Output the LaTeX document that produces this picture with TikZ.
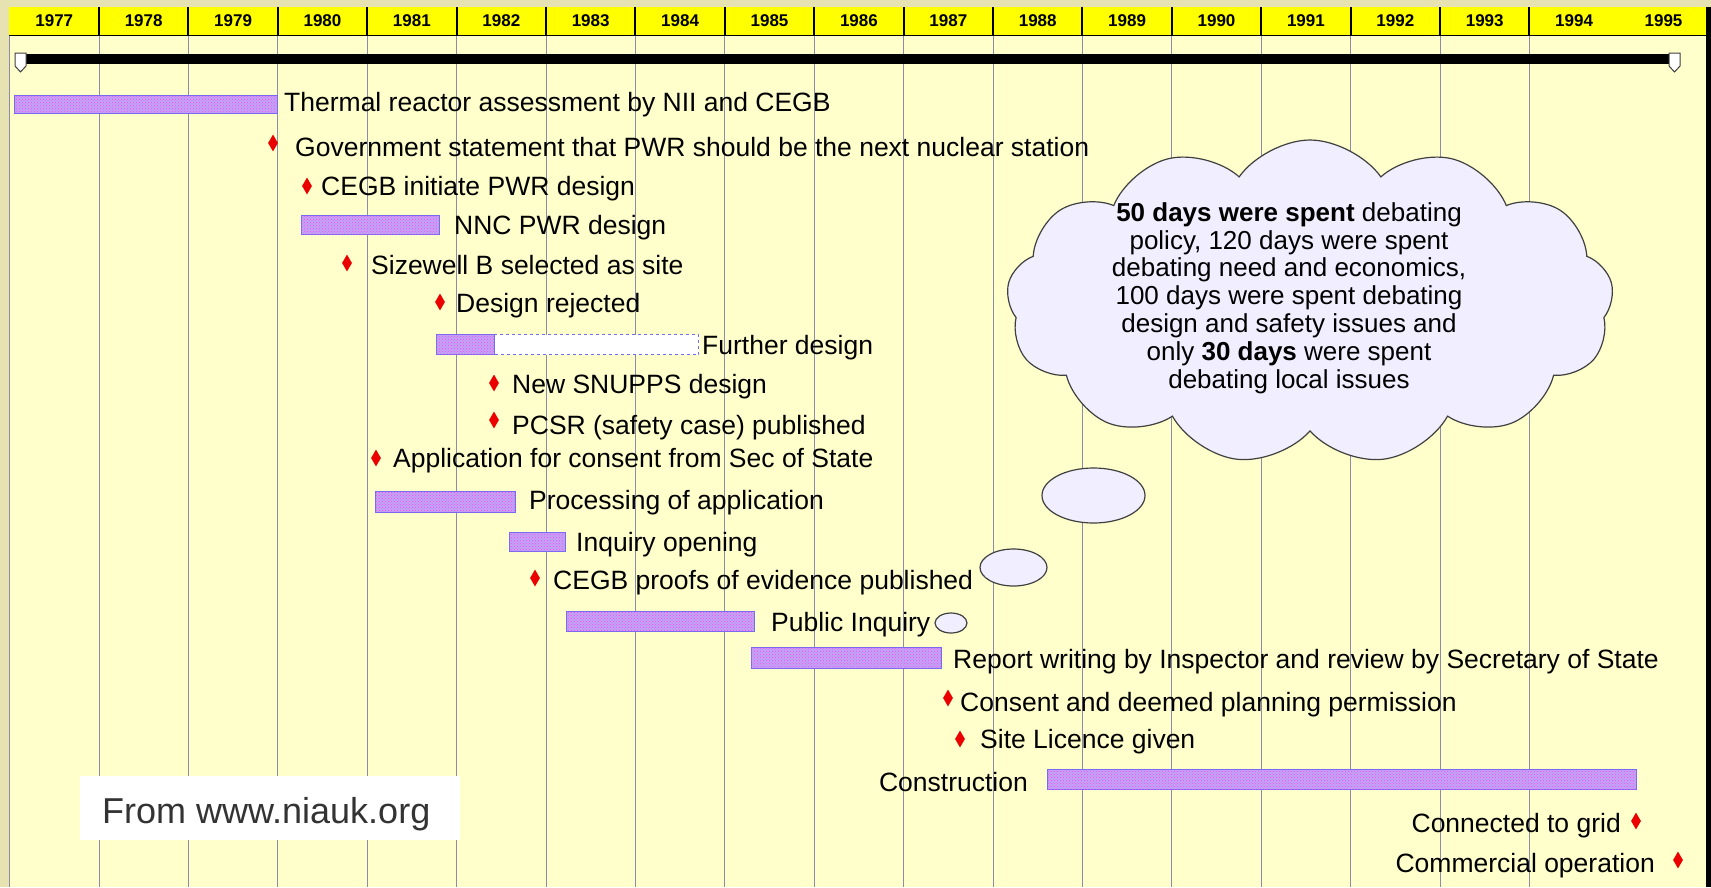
\documentclass[tikz,border=0pt]{standalone}
\usepackage{fontspec}
\setmainfont{Liberation Sans}
\usetikzlibrary{shapes.geometric,shapes.symbols,patterns}
\definecolor{framec}{RGB}{230,226,178}
\definecolor{bodybg}{RGB}{255,255,204}
\definecolor{hdr}{RGB}{255,255,0}
\definecolor{barbase}{RGB}{190,166,244}
\definecolor{barline}{RGB}{110,110,240}
\definecolor{cloudfill}{RGB}{240,238,255}
\definecolor{gridc}{RGB}{140,140,170}
\definecolor{mile}{RGB}{235,0,0}
\definecolor{srctext}{RGB}{51,51,51}
\begin{document}
\begin{tikzpicture}[x=1pt,y=-1pt,
  lbl/.style={anchor=base west, inner sep=0, font=\fontsize{26.5}{28}\selectfont},
  lblr/.style={anchor=base east, inner sep=0, font=\fontsize{26.5}{28}\selectfont},
  ms/.style={diamond, fill=mile, minimum width=10, minimum height=17, inner sep=0},
  yr/.style={inner sep=0, font=\bfseries\fontsize{17}{18}\selectfont},
  gbar/.style={anchor=north west, inner sep=0, outer sep=0, draw=barline, line width=0.8, fill=barbase,
     postaction={pattern=crosshatch dots, pattern color=magenta!75}},
  bubble/.style={ellipse, draw=black!75, line width=1.2, fill=cloudfill, inner sep=0},
  capshape/.style={fill=white, draw=gray!50!black, line width=1}
]
\useasboundingbox (0,0) rectangle (1711,887);
% background
\fill[framec] (0,0) rectangle (1711,887);
\fill[bodybg] (9,35) rectangle (1706,887);
\fill[hdr] (9,7) rectangle (1706,35);
\fill[black] (1706,7) rectangle (1711,887);
% grid
\foreach \k in {0,...,17} {
  \draw[gridc, line width=0.8] ({9.6+89.4*\k},35) -- ({9.6+89.4*\k},887);
}
\foreach \k in {1,...,17} {
  \draw[black, line width=2] ({9.6+89.4*\k},7) -- ({9.6+89.4*\k},35);
}
\draw[black, line width=1] (9,35) -- (1706,35);
\foreach \k [evaluate=\k as \yy using int(1977+\k)] in {0,...,18} {
  \node[yr] (y\k) at ({9.6+89.4*(\k+0.5)},21) {\yy};
}
% timeline bar
\fill[black] (26,54) rectangle (1669,64);
\draw[capshape] (15,53) -- (26,53) -- (26,66) -- (20.5,72) -- (15,66) -- cycle;
\draw[capshape] (1669,53) -- (1680,53) -- (1680,66) -- (1674.5,72) -- (1669,66) -- cycle;
% bars
\node[gbar, minimum width=263, minimum height=18.5] (b1) at (14,95) {};
\node[gbar, minimum width=138, minimum height=19.5] (b2) at (301,215) {};
\node[gbar, minimum width=58, minimum height=20] (b3) at (436.5,334.5) {};
\node[anchor=north west, inner sep=0, outer sep=0, fill=white, draw=barline, dashed, line width=0.8, minimum width=204, minimum height=20] (b3w) at (494.5,334.5) {};
\node[gbar, minimum width=140, minimum height=21] (b4) at (375,491) {};
\node[gbar, minimum width=55.5, minimum height=18.5] (b5) at (509.6,532.5) {};
\node[gbar, minimum width=188, minimum height=20] (b6) at (566,611) {};
\node[gbar, minimum width=190, minimum height=21] (b7) at (751,647) {};
\node[gbar, minimum width=589, minimum height=20] (b8) at (1047.6,769) {};
% cloud and bubbles
\node[cloud, cloud puffs=13, cloud puff arc=110, cloud ignores aspect, minimum width=607, minimum height=324,
      draw=black!75, line width=1.2, fill=cloudfill] (cloud) at (1310,302) {};
\node[bubble, minimum width=103, minimum height=55] (bub1) at (1093.5,495.5) {};
\node[bubble, minimum width=67, minimum height=37] (bub2) at (1013.5,567.5) {};
\node[bubble, minimum width=32, minimum height=20] (bub3) at (951,623) {};
\node[align=center, inner sep=0, font=\fontsize{26}{27.8}\selectfont] (cloudtxt) at (1289,298)
  {\textbf{50 days were spent} debating\\ policy, 120 days were spent\\ debating need and economics,\\ 100 days were spent debating\\ design and safety issues and\\ only \textbf{30 days} were spent\\ debating local issues};
% milestones
\node[ms] (m1) at (273,143) {};
\node[ms] (m2) at (307,186) {};
\node[ms] (m3) at (347,263) {};
\node[ms] (m4) at (440,302) {};
\node[ms] (m5) at (494,383) {};
\node[ms] (m6) at (494,420) {};
\node[ms] (m7) at (376,458) {};
\node[ms] (m8) at (535,578) {};
\node[ms] (m9) at (948,698) {};
\node[ms] (m10) at (960,739) {};
\node[ms] (m11) at (1636,821) {};
\node[ms] (m12) at (1678,860) {};
% labels
\node[lbl] (t1) at (284,111.6) {Thermal reactor assessment by NII and CEGB};
\node[lbl] (t2) at (295,156.3) {Government statement that PWR should be the next nuclear station};
\node[lbl] (t3) at (321,195.6) {CEGB initiate PWR design};
\node[lbl] (t4) at (454,234.9) {NNC PWR design};
\node[lbl] (t5) at (371,274.2) {Sizewell B selected as site};
\node[lbl] (t6) at (456,312.4) {Design rejected};
\node[lbl] (t7) at (702,354.9) {Further design};
\node[lbl] (t8) at (512,393.1) {New SNUPPS design};
\node[lbl] (t9) at (512,434.6) {PCSR (safety case) published};
\node[lbl] (t10) at (393,467.3) {Application for consent from Sec of State};
\node[lbl] (t11) at (529,509.9) {Processing of application};
\node[lbl] (t12) at (576,551.3) {Inquiry opening};
\node[lbl] (t13) at (553,589.5) {CEGB proofs of evidence published};
\node[lbl] (t14) at (771,631) {Public Inquiry};
\node[lbl] (t15) at (953,668.1) {Report writing by Inspector and review by Secretary of State};
\node[lbl] (t16) at (960,711.7) {Consent and deemed planning permission};
\node[lbl] (t17) at (980,748.8) {Site Licence given};
\node[lblr] (t18) at (1028,791.4) {Construction};
\node[lblr] (t19) at (1621,832.9) {Connected to grid};
\node[lblr] (t20) at (1655,872.1) {Commercial operation};
% source box
\node[anchor=north west, inner sep=0, fill=white, minimum width=380, minimum height=64] (srcbox) at (80,776) {};
\node[anchor=base west, inner sep=0, text=srctext, font=\fontsize{36}{40}\selectfont] (src) at (102,823) {From www.niauk.org};
\end{tikzpicture}
\end{document}
